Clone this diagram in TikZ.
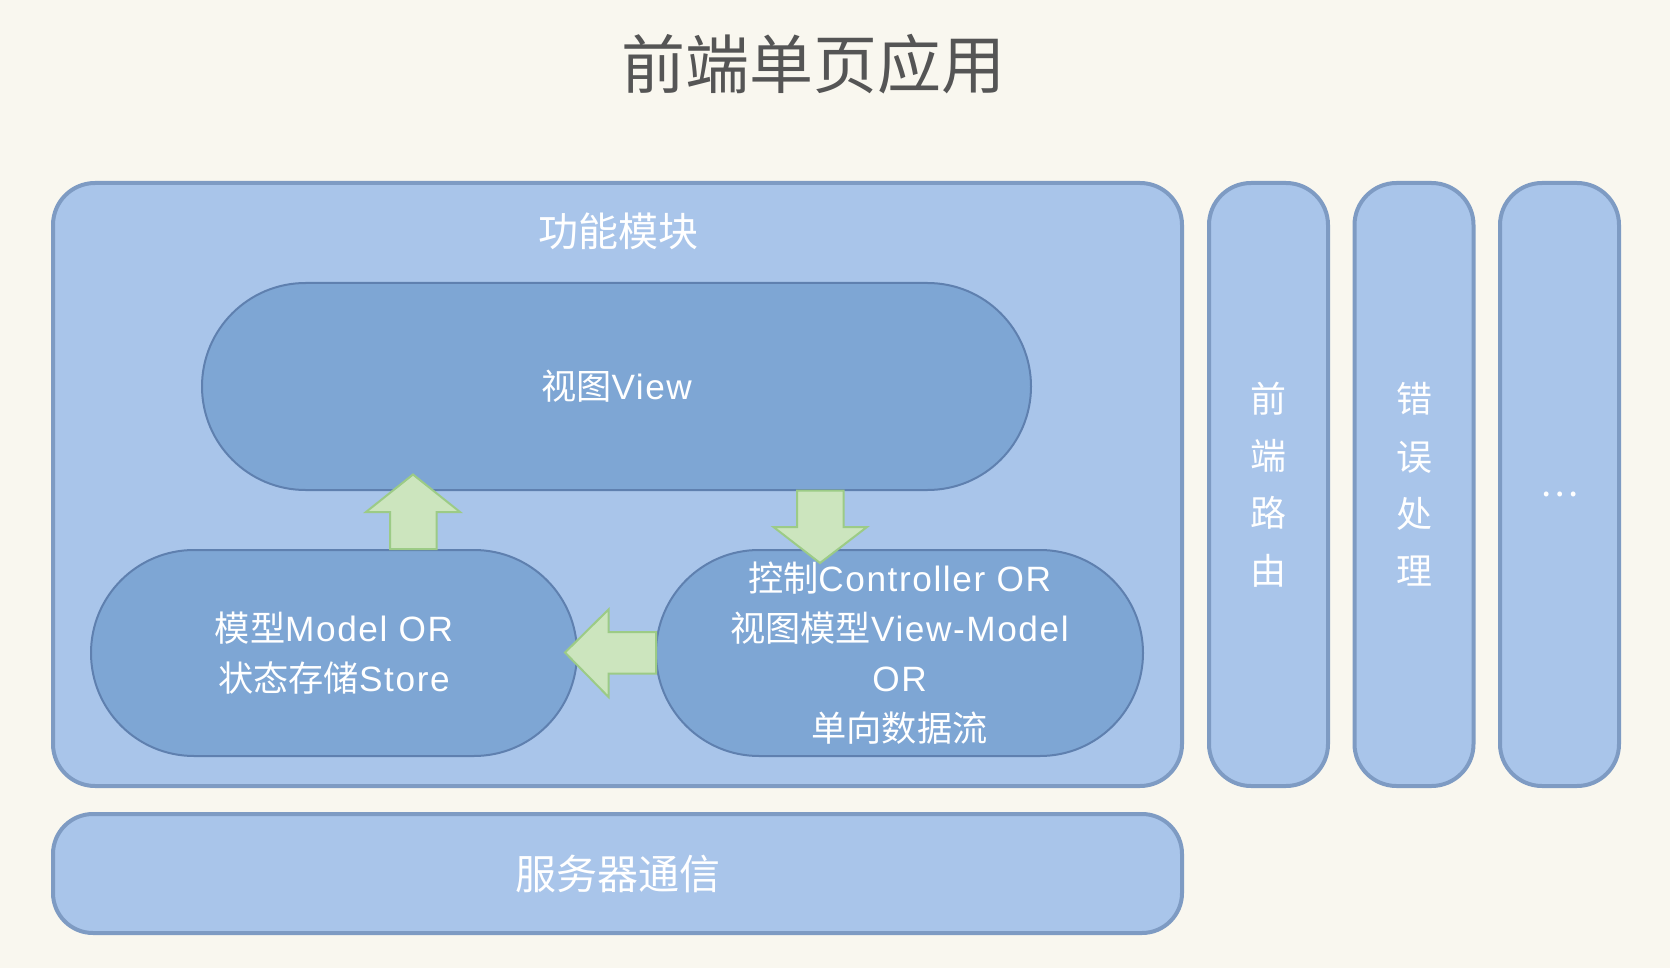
\documentclass[tikz,border=0pt]{standalone}
\usepackage{fontspec}
\setmainfont{Liberation Sans}[LetterSpace=4.5]
\newfontfamily\cjk{Noto Sans CJK SC}
\usepackage{tikz}
\usetikzlibrary{shapes.misc}
\usetikzlibrary{positioning}

\definecolor{paper}{HTML}{F9F7EF}
\definecolor{boxfill}{HTML}{A9C5EA}
\definecolor{boxline}{HTML}{7E9BC3}
\definecolor{podfill}{HTML}{7EA6D4}
\definecolor{podline}{HTML}{5F80AF}
\definecolor{flowfill}{HTML}{CCE5BE}
\definecolor{flowline}{HTML}{9CCB86}
\definecolor{titlegray}{HTML}{555555}

\begin{document}
\begin{tikzpicture}[
    x = 0.5pt, y = -0.5pt,
    panel/.style = {
      draw=boxline, fill=boxfill, line width=2pt,
      rounded corners=21pt, inner sep=0pt,
    },
    pod/.style = {
      rounded rectangle, draw=podline, fill=podfill, line width=1pt,
      inner sep=0pt, text=white, font=\fontsize{17.6}{25}\selectfont,
      align=center,
    },
    flow/.style = {
      draw=flowline, fill=flowfill, line width=1pt, line join=miter,
    },
    sidetext/.style = {
      text=white, font=\cjk\fontsize{18}{28.6}\selectfont, align=center,
    },
  ]
  \useasboundingbox[fill=paper] (0,0) rectangle (1670,968);

  \node[text=titlegray, font=\cjk\fontsize{32}{36}\selectfont] (title) at (813,64) {前端单页应用};

  % big panels
  \node[panel, minimum width=564.5pt, minimum height=301.5pt] (func) at (617.5,484.5) {};
  \node[text=white, font=\cjk\fontsize{20}{24}\selectfont] (funclabel) at (618,231) {功能模块};
  \node[panel, rounded corners=20pt, minimum width=564.5pt, minimum height=59.5pt,
        text=white, font=\cjk\fontsize{20.5}{24}\selectfont] (server) at (617.5,873.5) {服务器通信};

  \node[panel, minimum width=59.5pt, minimum height=301.5pt] (router) at (1268.5,484.5) {};
  \node[panel, minimum width=59.5pt, minimum height=301.5pt] (error) at (1414,484.5) {};
  \node[panel, minimum width=59.5pt, minimum height=301.5pt] (more) at (1559.5,484.5) {};
  \node[sidetext] at (router) {前\\端\\路\\由};
  \node[sidetext] at (error) {错\\误\\处\\理};
  \node[sidetext] at ([yshift=-5pt]more.center) {…};

  % inner pods
  \node[pod, minimum width=414.5pt, minimum height=103.5pt] (view) at (616.5,386.5) {{\cjk 视图}View};
  \node[pod, minimum width=243pt, minimum height=103pt] (model) at (334,653)
    {{\cjk 模型}Model OR\\{\cjk 状态存储}Store};
  \node[pod, minimum width=243.5pt, minimum height=103pt] (ctrl) at (899.5,653)
    {{\cjk 控制}Controller OR\\{\cjk 视图模型}View-Model\\OR\\{\cjk 单向数据流}};

  % data flow arrows
  \draw[flow] (390,549) -- (390,512) -- (366,512) -- (413,474.5)
    -- (460,512) -- (436.5,512) -- (436.5,549) -- cycle;
  \draw[flow] (797,490.5) -- (843.5,490.5) -- (843.5,527) -- (867,527)
    -- (820,563) -- (773.5,527) -- (797,527) -- cycle;
  \draw[flow] (656,632) -- (608.5,632) -- (608.5,609.5) -- (565,652.5)
    -- (608.5,697) -- (608.5,673.5) -- (656,673.5) -- cycle;
\end{tikzpicture}
\end{document}
